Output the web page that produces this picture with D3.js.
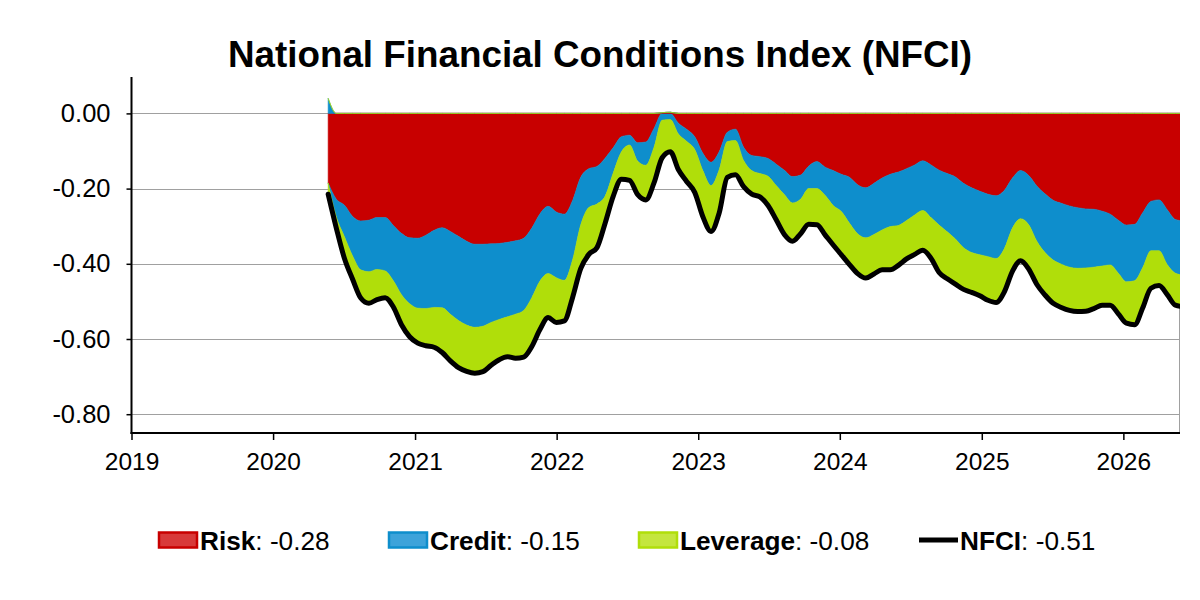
<!DOCTYPE html>
<html>
<head>
<meta charset="utf-8">
<script src="https://cdn.jsdelivr.net/npm/d3@7"></script>
<style>
  body { margin: 0; background: #ffffff; }
  svg { display: block; font-family: "Liberation Sans", Arial, sans-serif; }
</style>
</head>
<body>
<div id="chart"></div>
<script>
// Weekly readings thinned to every third week, first one on 22 May 2020
const startDate = new Date(2020, 4, 22);
const stepDays = 21;

// Contribution of each subindex
const risk = [
  -0.185, -0.228, -0.244, -0.274, -0.286, -0.284, -0.277, -0.277, -0.298, -0.319,
  -0.331, -0.332, -0.324, -0.311, -0.304, -0.314, -0.327, -0.340, -0.348, -0.348,
  -0.347, -0.346, -0.343, -0.339, -0.332, -0.305, -0.267, -0.247, -0.262, -0.268,
  -0.232, -0.170, -0.147, -0.141, -0.119, -0.091, -0.062, -0.058, -0.078, -0.076,
  -0.040, 0.002, 0.003, -0.026, -0.042, -0.062, -0.106, -0.130, -0.102, -0.050,
  -0.042, -0.090, -0.112, -0.115, -0.120, -0.135, -0.151, -0.168, -0.164, -0.140,
  -0.128, -0.143, -0.152, -0.162, -0.170, -0.190, -0.198, -0.186, -0.172, -0.162,
  -0.156, -0.147, -0.137, -0.126, -0.137, -0.151, -0.160, -0.169, -0.186, -0.198,
  -0.207, -0.215, -0.219, -0.205, -0.172, -0.152, -0.165, -0.193, -0.214, -0.231,
  -0.239, -0.246, -0.251, -0.254, -0.255, -0.260, -0.268, -0.284, -0.297, -0.295,
  -0.264, -0.234, -0.230, -0.256, -0.282, -0.286
];
const credit = [
  0.040, -0.047, -0.084, -0.105, -0.130, -0.137, -0.138, -0.142, -0.147, -0.163,
  -0.175, -0.186, -0.195, -0.205, -0.213, -0.220, -0.224, -0.223, -0.221, -0.218,
  -0.209, -0.202, -0.198, -0.195, -0.192, -0.185, -0.179, -0.179, -0.175, -0.176,
  -0.158, -0.127, -0.103, -0.100, -0.101, -0.067, -0.040, -0.026, -0.049, -0.062,
  -0.050, -0.018, -0.016, -0.029, -0.032, -0.034, -0.046, -0.062, -0.048, -0.025,
  -0.030, -0.035, -0.040, -0.045, -0.047, -0.057, -0.065, -0.070, -0.064, -0.060,
  -0.072, -0.075, -0.093, -0.099, -0.122, -0.130, -0.133, -0.136, -0.138, -0.139,
  -0.142, -0.138, -0.133, -0.132, -0.140, -0.146, -0.155, -0.165, -0.171, -0.172,
  -0.169, -0.166, -0.167, -0.155, -0.133, -0.128, -0.131, -0.147, -0.156, -0.159,
  -0.162, -0.163, -0.161, -0.157, -0.154, -0.146, -0.135, -0.141, -0.151, -0.150,
  -0.146, -0.131, -0.135, -0.146, -0.143, -0.144
];
const leverage = [
  -0.030, -0.030, -0.058, -0.062, -0.075, -0.084, -0.080, -0.071, -0.070, -0.080,
  -0.088, -0.093, -0.099, -0.106, -0.119, -0.124, -0.125, -0.123, -0.122, -0.121,
  -0.114, -0.107, -0.106, -0.117, -0.124, -0.130, -0.129, -0.117, -0.119, -0.108,
  -0.100, -0.116, -0.125, -0.116, -0.072, -0.062, -0.073, -0.094, -0.089, -0.092,
  -0.095, -0.100, -0.086, -0.095, -0.107, -0.114, -0.123, -0.122, -0.115, -0.095,
  -0.091, -0.070, -0.063, -0.062, -0.078, -0.091, -0.106, -0.102, -0.092, -0.095,
  -0.096, -0.105, -0.105, -0.115, -0.110, -0.106, -0.107, -0.105, -0.106, -0.115,
  -0.106, -0.102, -0.105, -0.106, -0.108, -0.126, -0.125, -0.120, -0.111, -0.106,
  -0.109, -0.116, -0.117, -0.115, -0.115, -0.112, -0.118, -0.115, -0.113, -0.115,
  -0.115, -0.115, -0.115, -0.115, -0.110, -0.104, -0.107, -0.108, -0.110, -0.117,
  -0.107, -0.100, -0.093, -0.080, -0.085, -0.084
];
// NFCI itself (the black line)
const nfci = [
  -0.215, -0.305, -0.386, -0.441, -0.491, -0.505, -0.495, -0.490, -0.515, -0.562,
  -0.594, -0.611, -0.618, -0.622, -0.636, -0.658, -0.676, -0.686, -0.691, -0.687,
  -0.670, -0.655, -0.647, -0.651, -0.648, -0.620, -0.575, -0.543, -0.556, -0.552,
  -0.490, -0.413, -0.375, -0.357, -0.292, -0.220, -0.175, -0.178, -0.216, -0.230,
  -0.185, -0.118, -0.102, -0.150, -0.181, -0.210, -0.275, -0.314, -0.265, -0.170,
  -0.163, -0.195, -0.215, -0.222, -0.245, -0.283, -0.322, -0.340, -0.320, -0.295,
  -0.296, -0.323, -0.350, -0.376, -0.402, -0.426, -0.438, -0.427, -0.416, -0.416,
  -0.404, -0.387, -0.375, -0.364, -0.385, -0.423, -0.440, -0.454, -0.468, -0.476,
  -0.485, -0.497, -0.503, -0.475, -0.420, -0.392, -0.414, -0.455, -0.483, -0.505,
  -0.516, -0.524, -0.527, -0.526, -0.519, -0.510, -0.510, -0.533, -0.558, -0.562,
  -0.517, -0.465, -0.458, -0.482, -0.510, -0.514
];

const yTicks = [0, -0.2, -0.4, -0.6, -0.8];
const xTickYears = [2019, 2020, 2021, 2022, 2023, 2024, 2025, 2026];

const seriesKeys = ["risk", "credit", "leverage"];
const seriesNames = ["Risk", "Credit", "Leverage", "NFCI"];
const legendValues = [-0.28, -0.15, -0.08, -0.51];

// colours for the filled bands and the legend swatches
const fillColor = { risk: "#c80000", credit: "#0e8ecc", leverage: "#b0de0a" };
const swatchFill = { risk: "#d83a3a", credit: "#3da3da", leverage: "#c4e63e" };

const width = 1200;
const height = 600;
const plotLeft = 131.5, plotRight = 1180, plotTop = 77, plotBottom = 433;

const svg = d3.select("#chart").append("svg")
    .attr("width", width)
    .attr("height", height);

svg.append("rect").attr("width", width).attr("height", height).attr("fill", "#ffffff");

// Build rows from the arrays
const rows = nfci.map((v, i) => ({
    date: d3.timeDay.offset(startDate, stepDays * i),
    risk: risk[i],
    credit: credit[i],
    leverage: leverage[i],
    nfci: v
}));

const x = d3.scaleTime()
    .domain([new Date(2019, 0, 1), new Date(2026, 4, 27)])
    .range([plotLeft, plotRight]);

const y = d3.scaleLinear()
    .domain([-0.85, 0])
    .range([plotBottom, 113.4]);

// Gridlines
svg.append("g")
    .selectAll("line")
    .data(yTicks)
    .enter().append("line")
    .attr("x1", plotLeft)
    .attr("x2", plotRight)
    .attr("y1", d => Math.round(y(d)) + 0.5)
    .attr("y2", d => Math.round(y(d)) + 0.5)
    .attr("stroke", "#a0a0a0")
    .attr("stroke-width", 1);

// right border of the plot
svg.append("line")
    .attr("x1", plotRight - 0.5).attr("x2", plotRight - 0.5)
    .attr("y1", y(0)).attr("y2", plotBottom)
    .attr("stroke", "#a0a0a0");

svg.append("clipPath").attr("id", "plotClip")
    .append("rect")
    .attr("x", plotLeft).attr("y", plotTop)
    .attr("width", plotRight - plotLeft).attr("height", plotBottom - plotTop);

// Stack negative and positive parts separately so the bands never cross
const negStack = d3.stack().keys(seriesKeys).value((d, k) => Math.min(d[k], 0))(rows);
const posStack = d3.stack().keys(seriesKeys).value((d, k) => Math.max(d[k], 0))(rows);

const area = d3.area()
    .curve(d3.curveMonotoneX)
    .x(d => x(d.data.date))
    .y0(d => y(d[0]))
    .y1(d => y(d[1]));

const plot = svg.append("g").attr("clip-path", "url(#plotClip)");

[negStack, posStack].forEach(stack => {
    plot.selectAll(null)
        .data(stack)
        .enter().append("path")
        .attr("d", area)
        .attr("fill", d => fillColor[d.key])
        .attr("stroke", d => fillColor[d.key])
        .attr("stroke-width", 0.6);
});

const line = d3.line()
    .curve(d3.curveMonotoneX)
    .x(d => x(d.date))
    .y(d => y(d.nfci));

plot.append("path")
    .datum(rows)
    .attr("d", line)
    .attr("fill", "none")
    .attr("stroke", "#000000")
    .attr("stroke-width", 5)
    .attr("stroke-linejoin", "round")
    .attr("stroke-linecap", "round");

// Y axis
const yAxis = d3.axisLeft(y)
    .tickValues(yTicks)
    .tickSize(5)
    .tickPadding(16)
    .tickFormat(d3.format(".2f"));

const yg = svg.append("g")
    .attr("transform", `translate(${plotLeft},0)`)
    .call(yAxis);
yg.select(".domain").remove();
yg.selectAll(".tick line").attr("stroke", "#000").attr("stroke-width", 1.5);
yg.selectAll(".tick text")
    .attr("font-size", 25.5)
    .attr("font-family", "Liberation Sans, Arial, sans-serif")
    .attr("fill", "#000")
    .text(d => d3.format(".2f")(d).replace("−", "-"));

// X axis
const xAxis = d3.axisBottom(x)
    .tickValues(xTickYears.map(yr => new Date(yr, 0, 1)))
    .tickSize(7)
    .tickPadding(13)
    .tickFormat(d3.timeFormat("%Y"));

const xg = svg.append("g")
    .attr("transform", `translate(0,${plotBottom})`)
    .call(xAxis);
xg.select(".domain").remove();
xg.selectAll(".tick line").attr("stroke", "#000").attr("stroke-width", 1.5);
xg.selectAll(".tick text")
    .attr("font-size", 24.5)
    .attr("font-family", "Liberation Sans, Arial, sans-serif")
    .attr("fill", "#000");

// axis lines
svg.append("line")
    .attr("x1", plotLeft).attr("x2", plotLeft)
    .attr("y1", plotTop).attr("y2", plotBottom + 1)
    .attr("stroke", "#000").attr("stroke-width", 2);
svg.append("line")
    .attr("x1", plotLeft - 1).attr("x2", plotRight)
    .attr("y1", plotBottom).attr("y2", plotBottom)
    .attr("stroke", "#000").attr("stroke-width", 2);

// Title
svg.append("text")
    .attr("x", 600)
    .attr("y", 67)
    .attr("text-anchor", "middle")
    .attr("font-size", 36.8)
    .attr("font-weight", "bold")
    .attr("fill", "#000")
    .text("National Financial Conditions Index (NFCI)");

// Legend
const legendX = [158, 388, 638, 918];
const legendKeys = ["risk", "credit", "leverage", "nfci"];

const legend = svg.append("g");
legendKeys.forEach((key, i) => {
    const g = legend.append("g").attr("transform", `translate(${legendX[i]},540)`);
    if (key === "nfci") {
        g.append("line")
            .attr("x1", 1).attr("x2", 40)
            .attr("y1", 0).attr("y2", 0)
            .attr("stroke", "#000").attr("stroke-width", 5);
    } else {
        g.append("rect")
            .attr("x", 1).attr("y", -7.5)
            .attr("width", 38).attr("height", 15)
            .attr("fill", swatchFill[key])
            .attr("stroke", fillColor[key])
            .attr("stroke-width", 2.5);
    }
    const t = g.append("text")
        .attr("x", 42)
        .attr("y", 10)
        .attr("font-size", 26.2)
        .attr("fill", "#000");
    t.append("tspan").attr("font-weight", "bold").text(seriesNames[i]);
    t.append("tspan").text(": " + d3.format(".2f")(legendValues[i]).replace("−", "-"));
});
</script>
</body>
</html>
